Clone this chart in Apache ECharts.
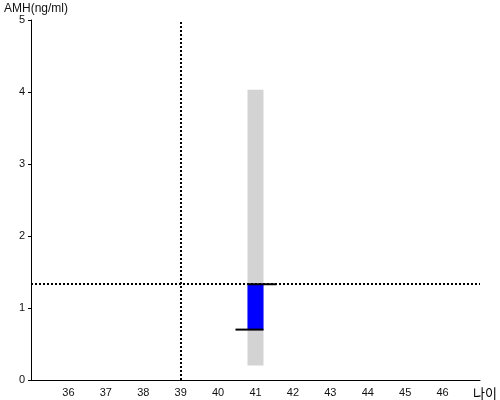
<!DOCTYPE html>
<html><head><meta charset="utf-8">
<script src="https://cdn.jsdelivr.net/npm/echarts@6/dist/echarts.min.js"></script>
<style>html,body{margin:0;padding:0;background:#fff}#c{width:500px;height:400px}</style>
</head><body><div id="c"></div>
<script>
var ages = [41];
var rangeLow = [0.2];
var rangeHigh = [4.03];
var valueLow = [0.7];
var valueHigh = [1.33];
var refAge = 39;
var refAMH = 1.33;
var xTicks = [36,37,38,39,40,41,42,43,44,45,46];
var yTicks = [0,1,2,3,4,5];

var chart = echarts.init(document.getElementById('c'));
var data = ages.map(function(a,i){return [a, rangeLow[i], rangeHigh[i], valueLow[i], valueHigh[i]];});
chart.setOption({
  animation:false,
  grid:{left:31,right:20,top:20,bottom:20},
  xAxis:{type:'value',min:35,max:47,interval:1,
    name:'나이',nameLocation:'end',nameGap:-7,
    nameTextStyle:{fontFamily:'Noto Sans CJK KR',fontSize:13,color:'#000',align:'left',verticalAlign:'top',padding:[7,0,0,0]},
    axisLine:{lineStyle:{color:'#000',width:1}},
    axisTick:{show:false},splitLine:{show:false},
    axisLabel:{fontFamily:'Liberation Sans',fontSize:11,color:'#111',margin:7,
      formatter:function(v){return xTicks.indexOf(v)>=0?String(v):'';}}},
  yAxis:{type:'value',min:0,max:5,interval:1,
    name:'AMH(ng/ml)',nameLocation:'end',nameGap:3,
    nameTextStyle:{fontFamily:'Liberation Sans',fontSize:12,color:'#111',align:'left',padding:[0,0,0,-27]},
    axisLine:{show:true,lineStyle:{color:'#000',width:1}},
    axisTick:{show:true,length:3,lineStyle:{color:'#000'}},splitLine:{show:false},
    axisLabel:{fontFamily:'Liberation Sans',fontSize:11,color:'#111',margin:6,
      formatter:function(v){return yTicks.indexOf(v)>=0?String(v):'';}}},
  series:[{
    type:'custom',
    data:data,
    renderItem:function(params,api){
      var x=api.value(0);
      var pLow=api.coord([x,api.value(1)]);
      var pHigh=api.coord([x,api.value(2)]);
      var vLow=api.coord([x,api.value(3)]);
      var vHigh=api.coord([x,api.value(4)]);
      var hw=8;
      return {type:'group',children:[
        {type:'rect',shape:{x:pLow[0]-hw,y:pHigh[1],width:hw*2,height:pLow[1]-pHigh[1]},style:{fill:'#d3d3d3'}},
        {type:'rect',shape:{x:vLow[0]-hw,y:vHigh[1],width:hw*2,height:vLow[1]-vHigh[1]},style:{fill:'#0000ff'}},
        {type:'line',shape:{x1:vHigh[0]-hw,y1:vHigh[1],x2:vHigh[0]+21,y2:vHigh[1]},style:{stroke:'#000',lineWidth:2}},
        {type:'line',shape:{x1:vLow[0]-20,y1:vLow[1],x2:vLow[0]+hw,y2:vLow[1]},style:{stroke:'#000',lineWidth:2}}
      ]};
    },
    markLine:{silent:true,symbol:'none',label:{show:false},
      lineStyle:{color:'#000',type:[2,2],width:2},
      data:[{xAxis:refAge},{yAxis:refAMH}]}
  }]
});
</script></body></html>
